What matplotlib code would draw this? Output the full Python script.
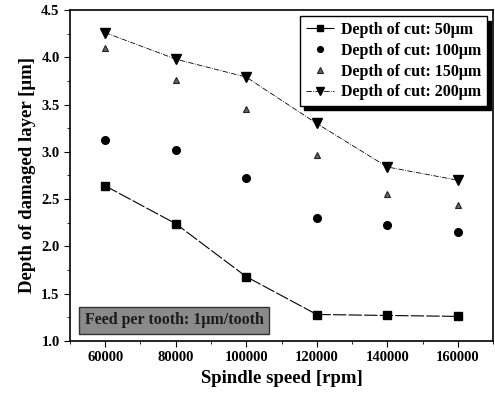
import matplotlib.pyplot as plt
import numpy as np

speed = [60000, 80000, 100000, 120000, 140000, 160000]
cut50 = [2.64, 2.24, 1.68, 1.28, 1.27, 1.26]
cut100 = [3.13, 3.02, 2.72, 2.30, 2.23, 2.15]
cut150 = [4.10, 3.76, 3.45, 2.97, 2.55, 2.44]
cut200 = [4.26, 3.98, 3.79, 3.30, 2.84, 2.70]


def DamageGraph():
	plt.rcParams['font.family'] = 'Liberation Serif'
	plt.rcParams['font.weight'] = 'bold'
	fig = plt.figure(figsize=(4.95, 3.99), dpi=100)
	ax = fig.add_axes([0.1414, 0.1454, 0.8546, 0.8296])

	ax.plot(speed, cut50, color='black', lw=0.8, ls=(0, (12, 2)), marker='s', ms=6,
		label='Depth of cut: 50μm')
	ax.plot(speed, cut100, color='black', ls='none', marker='o', ms=5.5,
		label='Depth of cut: 100μm')
	ax.plot(speed, cut150, color='#333333', ls='none', marker='^', ms=5, mfc='#666666',
		mec='#222222', mew=0.8, label='Depth of cut: 150μm')
	ax.plot(speed, cut200, color='black', lw=0.6, ls='-.', marker='v', ms=7,
		label='Depth of cut: 200μm')

	ax.set_xlim(50000, 170000)
	ax.set_ylim(1.0, 4.5)
	ax.set_xticks(speed)
	ax.set_xticks(np.arange(50000, 170001, 10000), minor=True)
	ax.set_yticks(np.arange(1.0, 4.51, 0.5))
	ax.set_yticks(np.arange(1.0, 4.51, 0.25), minor=True)
	ax.set_yticklabels(['%.1f' % v for v in np.arange(1.0, 4.51, 0.5)])
	ax.tick_params(direction='out', labelsize=10.5, length=4)
	ax.tick_params(which='minor', direction='out', length=2)
	for s in ax.spines.values():
		s.set_linewidth(1.2)

	ax.set_xlabel('Spindle speed [rpm]', fontsize=13.5, fontweight='bold')
	ax.set_ylabel('Depth of damaged layer [μm]', fontsize=13.5, fontweight='bold')

	leg = ax.legend(loc='upper right', fontsize=11.5, frameon=True, fancybox=False,
		shadow={'color': 'black', 'alpha': 1, 'ox': 3, 'oy': -3}, borderpad=0.35,
		labelspacing=0.3, handlelength=1.8, handletextpad=0.4, borderaxespad=0.4,
		markerscale=0.75)
	leg.get_frame().set_edgecolor('black')
	leg.get_frame().set_linewidth(1.0)

	ax.text(0.035, 0.05, 'Feed per tooth: 1μm/tooth', transform=ax.transAxes,
		fontsize=11.5, fontweight='bold', color='#1a1a1a',
		bbox=dict(boxstyle='square,pad=0.35', facecolor='#8a8a8a', edgecolor='#333333'))

	fig.savefig('out.png', dpi=100)


def main():
	DamageGraph()


if __name__ == "__main__":
	main()
